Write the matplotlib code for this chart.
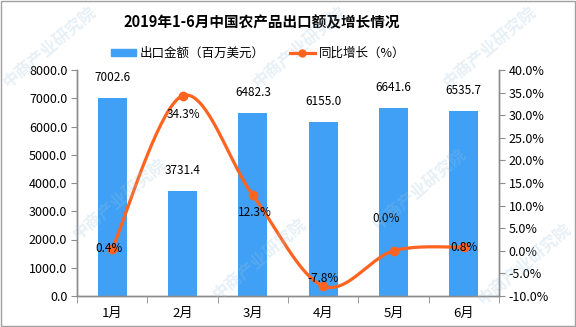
import numpy as np
import matplotlib
matplotlib.use("Agg")
import matplotlib.pyplot as plt
from matplotlib.patches import Rectangle
from matplotlib.lines import Line2D
from matplotlib.patches import Patch

plt.rcParams['font.family'] = ['Noto Sans CJK SC', 'DejaVu Sans']
plt.rcParams['axes.unicode_minus'] = False

# 数据
months = ["1月", "2月", "3月", "4月", "5月", "6月"]
export_value = [7002.6, 3731.4, 6482.3, 6155.0, 6641.6, 6535.7]
growth = [0.4, 34.3, 12.3, -7.8, 0.0, 0.8]
growth_labels = ["0.4%", "34.3%", "12.3%", "-7.8%", "0.0%", "0.8%"]

# 百分比标签偏移 (像素)
pct_offsets = [(-3, 0), (1, -19), (2, -17), (0, 8), (-7, 32), (0, 0)]

bar_color = "#3FA0F5"
line_color = "#FF6320"
axis_color = "#8c8c8c"

fig = plt.figure(figsize=(5.76, 3.27), dpi=100)
ax = fig.add_axes([77 / 576, 1 - 296 / 327, 422 / 576, 226 / 327])
ax2 = ax.twinx()

x = np.arange(len(months))
ax.bar(x, export_value, width=0.41, color=bar_color, zorder=2)
for xi, v in zip(x, export_value):
    ax.annotate("%.1f" % v, (xi, v), xytext=(0, 10), textcoords="offset points",
                ha="center", va="bottom", fontsize=8.5, color="black")

ax.set_xlim(-0.5, 5.5)
ax.set_ylim(0, 8000)
ax.set_yticks(np.arange(0, 8001, 1000))
ax.set_yticklabels(["%.1f" % t for t in np.arange(0, 8001, 1000)], fontsize=9)
ax.set_xticks(x)
ax.set_xticklabels(months, fontsize=9.5)
ax.set_xticks(np.arange(-0.5, 6, 1), minor=True)
ax.tick_params(axis="x", which="major", length=0, pad=8)
ax.tick_params(axis="x", which="minor", length=5, color=axis_color, direction="out")
ax.tick_params(axis="y", length=4, color=axis_color, direction="out", pad=3)

ax2.set_ylim(-10, 40)
ax2.set_yticks(np.arange(-10, 41, 5))
ax2.set_yticklabels(["%.1f%%" % t for t in np.arange(-10, 41, 5)], fontsize=9)
ax2.tick_params(axis="y", length=4, color=axis_color, direction="out", pad=3)

for a in (ax, ax2):
    a.spines["top"].set_visible(False)
    for s in ("left", "right", "bottom"):
        a.spines[s].set_color(axis_color)
        a.spines[s].set_linewidth(1.0)

# 平滑曲线 (在像素空间里做 Catmull-Rom)
px = (x + 0.5) / 6 * 422
py = (np.array(growth) + 10) / 50 * 226
pts = np.column_stack([px, py])
ext = np.vstack([pts[0], pts, pts[-1]])
curve = []
for i in range(len(pts) - 1):
    p0, p1, p2, p3 = ext[i], ext[i + 1], ext[i + 2], ext[i + 3]
    c1 = p1 + (p2 - p0) / 6
    c2 = p2 - (p3 - p1) / 6
    t = np.linspace(0, 1, 40)[:, None]
    seg = (1 - t) ** 3 * p1 + 3 * (1 - t) ** 2 * t * c1 + 3 * (1 - t) * t ** 2 * c2 + t ** 3 * p2
    curve.append(seg)
curve = np.vstack(curve)
cx = curve[:, 0] / 422 * 6 - 0.5
cy = curve[:, 1] / 226 * 50 - 10
ax2.plot(cx, cy, color=line_color, lw=2.3, zorder=3)
ax2.plot(x, growth, "o", color=line_color, ms=6, zorder=4)
for xi, v, lab, off in zip(x, growth, growth_labels, pct_offsets):
    ax2.annotate(lab, (xi, v), xytext=(off[0] * 0.72, off[1] * 0.72), textcoords="offset points",
                 ha="center", va="center", fontsize=8.5, color="black", zorder=5)

fig.text(0.455, 1 - 22 / 327, "2019年1-6月中国农产品出口额及增长情况",
         ha="center", va="center", fontsize=10.5, fontweight="bold")

handles = [Patch(color=bar_color),
           Line2D([0], [0], color=line_color, lw=2.3, marker="o", ms=5)]
fig.legend(handles, ["出口金额（百万美元）", "同比增长（%）"], loc="center",
           bbox_to_anchor=(0.448, 1 - 53 / 327), ncol=2, frameon=False, fontsize=9,
           handlelength=2.0, handleheight=0.5, columnspacing=2.0, handletextpad=0.3)

# 水印
for wx, wy in [(50, 48), (300, 48), (490, 48), (120, 200), (260, 260), (420, 190), (525, 265)]:
    fig.text(wx / 576, 1 - wy / 327, "中商产业研究院", rotation=40, fontsize=12,
             color="#9fc3dc", alpha=0.25, ha="center", va="center", fontweight="bold")

fig.patches.append(Rectangle((0.001, 0.002), 0.997, 0.995, transform=fig.transFigure,
                             fill=False, edgecolor="#a0a0a0", lw=1))

fig.savefig("out.png", dpi=100)
